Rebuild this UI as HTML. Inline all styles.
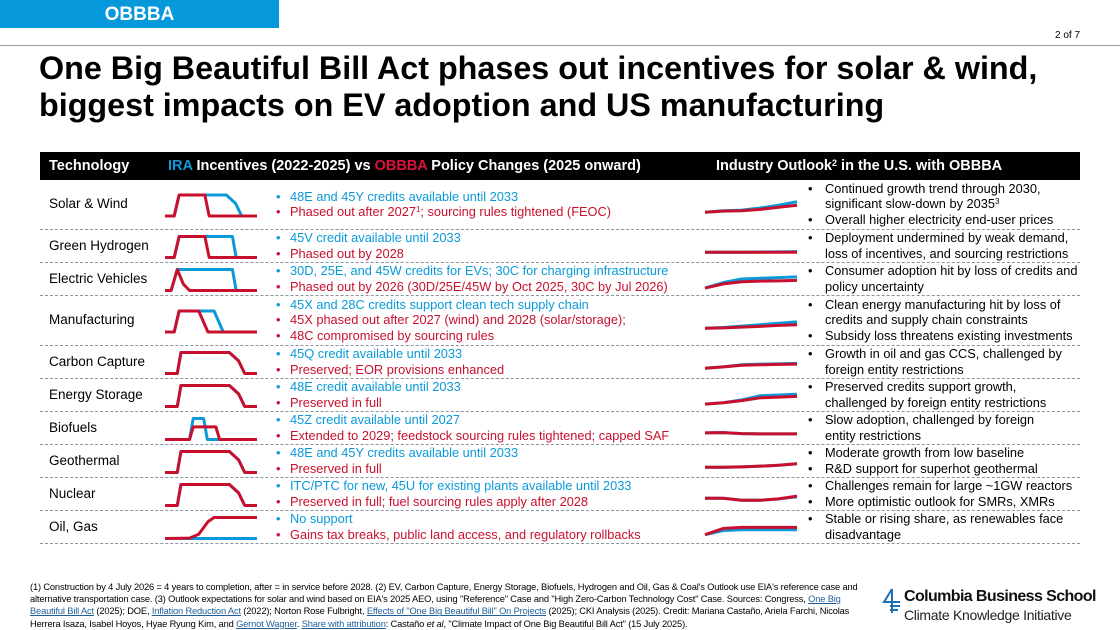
<!DOCTYPE html>
<html><head><meta charset="utf-8">
<style>
body{margin:0;width:1120px;height:630px;overflow:hidden;background:#fff;font-family:"Liberation Sans",Arial,sans-serif;position:relative}
.abs{position:absolute}
.b{color:#0a9ad9}.r{color:#c8102e}
.row-text{position:absolute;font-size:12.8px;line-height:15.5px;white-space:nowrap}
.li{position:relative;padding-left:14px}
.li:before{content:"•";position:absolute;left:0}
.rl .li{padding-left:17px}
.rl .li:before{color:#000}
.sep{position:absolute;left:40px;width:1040px;border-top:1.5px dashed #8a95a0}
.tech{position:absolute;left:49px;font-size:13.5px;color:#000}
.foot{position:absolute;left:30px;top:581px;width:832px;font-size:9.3px;line-height:12.2px;color:#000;letter-spacing:-0.15px}
.foot a{color:#1f5f9a;text-decoration:underline}
sup.s{font-size:8px;line-height:0;vertical-align:4px}
</style></head><body>
<div class="abs" style="left:0;top:0;width:279px;height:28px;background:#0598da;color:#fff;font-weight:bold;font-size:19px;line-height:29px;text-align:center">OBBBA</div>
<div class="abs" style="left:0;top:45px;width:1120px;border-top:1px solid #999"></div>
<div class="abs" style="left:1055px;top:30px;font-size:10px">2 of 7</div>
<div class="abs" style="left:39px;top:50px;font-size:32.3px;font-weight:bold;line-height:37px;color:#000;white-space:nowrap">One Big Beautiful Bill Act phases out incentives for solar &amp; wind,<br>biggest impacts on EV adoption and US manufacturing</div>
<div class="abs" style="left:40px;top:152px;width:1040px;height:28px;background:#000;color:#fff;font-weight:bold;font-size:14.5px;line-height:29px">
<span class="abs" style="left:9px">Technology</span>
<span class="abs" style="left:128px"><span style="color:#0a9ad9">IRA</span> Incentives (2022-2025) vs <span style="color:#e0103a">OBBBA</span> Policy Changes (2025 onward)</span>
<span class="abs" style="left:676px;white-space:nowrap">Industry Outlook<sup class="s" style="font-size:9px">2</sup> in the U.S. with OBBBA</span>
</div>
<div id="rows"></div>
<svg id="charts" class="abs" style="left:0;top:0" width="1120" height="630"></svg>
<div class="foot">(1) Construction by 4 July 2026 = 4 years to completion, after = in service before 2028. (2) EV, Carbon Capture, Energy Storage, Biofuels, Hydrogen and Oil, Gas &amp; Coal's Outlook use EIA's reference case and alternative transportation case. (3) Outlook expectations for solar and wind based on EIA's 2025 AEO, using "Reference" Case and "High Zero-Carbon Technology Cost" Case. Sources: Congress, <a>One Big Beautiful Bill Act</a> (2025); DOE, <a>Inflation Reduction Act</a> (2022); Norton Rose Fulbright, <a>Effects of "One Big Beautiful Bill" On Projects</a> (2025); CKI Analysis (2025). Credit: Mariana Castaño, Ariela Farchi, Nicolas Herrera Isaza, Isabel Hoyos, Hyae Ryung Kim, and <a>Gernot Wagner</a>. <a>Share with attribution</a>: Castaño <i>et al</i>, "Climate Impact of One Big Beautiful Bill Act" (15 July 2025).</div>
<div class="abs" style="left:878px;top:586px">
<svg width="24" height="26" class="abs" style="left:0;top:2px"><path d="M14 1 L6 14 H22 M12 18 H22 M12 22 H20 M14 1 V25" stroke="#1c6fb8" stroke-width="2" fill="none"/></svg>
<div class="abs" style="left:26px;top:2px;font-size:16px;font-weight:bold;letter-spacing:-0.6px;white-space:nowrap;color:#111">Columbia Business School</div>
<div class="abs" style="left:26px;top:21px;font-size:14px;letter-spacing:-0.3px;white-space:nowrap;color:#222">Climate Knowledge Initiative</div>
</div>
<script>
const techNames=["Solar & Wind","Green Hydrogen","Electric Vehicles","Manufacturing","Carbon Capture","Energy Storage","Biofuels","Geothermal","Nuclear","Oil, Gas"];
const rowTops=[180,230,263,296,346,379,412,445,478,511,544];
const iraText=[["48E and 45Y credits available until 2033"],["45V credit available until 2033"],["30D, 25E, and 45W credits for EVs; 30C for charging infrastructure"],["45X and 28C credits support clean tech supply chain"],["45Q credit available until 2033"],["48E credit available until 2033"],["45Z credit available until 2027"],["48E and 45Y credits available until 2033"],["ITC/PTC for new, 45U for existing plants available until 2033"],["No support"]];
const obbbaText=[["Phased out after 2027<sup class='s'>1</sup>; sourcing rules tightened (FEOC)"],["Phased out by 2028"],["Phased out by 2026 (30D/25E/45W by Oct 2025, 30C by Jul 2026)"],["45X phased out after 2027 (wind) and 2028 (solar/storage);","48C compromised by sourcing rules"],["Preserved; EOR provisions enhanced"],["Preserved in full"],["Extended to 2029; feedstock sourcing rules tightened; capped SAF"],["Preserved in full"],["Preserved in full; fuel sourcing rules apply after 2028"],["Gains tax breaks, public land access, and regulatory rollbacks"]];
const outlookText=[["Continued growth trend through 2030,|significant slow-down by 2035<sup class='s'>3</sup>","Overall higher electricity end-user prices"],["Deployment undermined by weak demand,|loss of incentives, and sourcing restrictions"],["Consumer adoption hit by loss of credits and|policy uncertainty"],["Clean energy manufacturing hit by loss of|credits and supply chain constraints","Subsidy loss threatens existing investments"],["Growth in oil and gas CCS, challenged by|foreign entity restrictions"],["Preserved credits support growth,|challenged by foreign entity restrictions"],["Slow adoption, challenged by foreign|entity restrictions"],["Moderate growth from low baseline","R&D support for superhot geothermal"],["Challenges remain for large ~1GW reactors","More optimistic outlook for SMRs, XMRs"],["Stable or rising share, as renewables face|disadvantage"]];
const iraPolicy=[
[[2020,0],[2021.5,0],[2022.3,1],[2030,1],[2031.5,0.6],[2032.5,0],[2035,0]],
[[2020,0],[2021.5,0],[2022.3,1],[2031,1],[2031.6,0],[2035,0]],
[[2020,0],[2021,0],[2022,1],[2031,1],[2031.6,0],[2035,0]],
[[2020,0],[2021.5,0],[2022.3,1],[2028,1],[2029.5,0],[2035,0]],
[[2020,0],[2022,0],[2022.6,1],[2030.5,1],[2032,0.6],[2033,0],[2035,0]],
[[2020,0],[2022,0],[2022.6,1],[2030.5,1],[2032,0.6],[2033,0],[2035,0]],
[[2020,0],[2024,0],[2024.6,1],[2026.3,1],[2026.9,0],[2035,0]],
[[2020,0],[2022,0],[2022.6,1],[2030.5,1],[2032,0.6],[2033,0],[2035,0]],
[[2020,0],[2022,0],[2022.6,1],[2030.5,1],[2032,0.6],[2033,0],[2035,0]],
[[2020,0],[2035,0]]];
const obbbaPolicy=[
[[2020,0],[2021.5,0],[2022.3,1],[2026.5,1],[2027.2,0],[2035,0]],
[[2020,0],[2021.5,0],[2022.3,1],[2026.5,1],[2027.2,0],[2035,0]],
[[2020,0],[2021,0],[2022,1],[2023,0.3],[2024,0],[2035,0]],
[[2020,0],[2021.5,0],[2022.3,1],[2025.5,1],[2027,0],[2035,0]],
[[2020,0],[2022,0],[2022.6,1],[2030.5,1],[2032,0.6],[2033,0],[2035,0]],
[[2020,0],[2022,0],[2022.6,1],[2030.5,1],[2032,0.6],[2033,0],[2035,0]],
[[2020,0],[2024,0],[2024.6,0.6],[2028.3,0.6],[2028.9,0],[2035,0]],
[[2020,0],[2022,0],[2022.6,1],[2030.5,1],[2032,0.6],[2033,0],[2035,0]],
[[2020,0],[2022,0],[2022.6,1],[2030.5,1],[2032,0.6],[2033,0],[2035,0]],
[[2020,0],[2024,0.02],[2025.5,0.2],[2027,0.8],[2028,1],[2035,1]]];
const outlookYears=[2025,2027,2029,2031,2033,2035];
const outlookBase=[
[0.2,0.3,0.35,0.5,0.7,0.95],[0.3,0.3,0.3,0.32,0.33,0.35],[0.1,0.5,0.75,0.8,0.85,0.9],[0.2,0.25,0.35,0.45,0.55,0.65],
[0.3,0.4,0.55,0.6,0.62,0.65],[0.1,0.2,0.4,0.7,0.75,0.8],[0.4,0.42,0.35,0.33,0.33,0.33],[0.3,0.3,0.33,0.38,0.45,0.55],[0.45,0.45,0.3,0.3,0.4,0.55],[0.2,0.5,0.55,0.55,0.55,0.55]];
const outlookObbba=[
[0.2,0.28,0.3,0.4,0.55,0.7],[0.3,0.3,0.3,0.3,0.3,0.3],[0.1,0.4,0.55,0.6,0.62,0.65],[0.2,0.22,0.28,0.33,0.4,0.45],
[0.3,0.4,0.52,0.55,0.58,0.6],[0.1,0.2,0.35,0.55,0.6,0.65],[0.4,0.42,0.35,0.33,0.33,0.33],[0.3,0.3,0.33,0.38,0.45,0.55],[0.45,0.45,0.3,0.3,0.4,0.6],[0.2,0.65,0.72,0.72,0.72,0.72]];

const NS="http://www.w3.org/2000/svg";
const svg=document.getElementById('charts');
const rowsDiv=document.getElementById('rows');
const BLUE="#0a9ad9",RED="#c8102e";
function px(y0,y1,x0,x1){return t=>x0+(t-y0)/(y1-y0)*(x1-x0);}
function poly(pts,xs,ys,color,name){
  const p=document.createElementNS(NS,'polyline');
  p.setAttribute('points',pts.map(d=>xs(d[0])+','+ys(d[1])).join(' '));
  p.setAttribute('fill','none');p.setAttribute('stroke',color);p.setAttribute('stroke-width','3');
  p.setAttribute('stroke-linejoin','round');
  
  
  svg.appendChild(p);
}
function lines(arr,cls){return arr.map(s=>'<div class="li '+cls+'">'+s.split('|').join('<br>')+'</div>').join('');}
for(let i=0;i<techNames.length;i++){
  const top=rowTops[i],bot=rowTops[i+1],mid=(top+bot)/2;
  const sep=document.createElement('div');sep.className='sep';sep.style.top=(bot-1)+'px';
  
  
  rowsDiv.appendChild(sep);
  const t=document.createElement('div');t.className='tech';t.textContent=techNames[i];t.style.top=(mid-9)+'px';
  
  
  rowsDiv.appendChild(t);
  const nL=iraText[i].length+obbbaText[i].length;
  const l=document.createElement('div');l.className='row-text';l.style.left='276px';l.style.top=(mid-nL*7.75-1)+'px';
  l.innerHTML=lines(iraText[i],'b')+lines(obbbaText[i],'r');
  
  
  rowsDiv.appendChild(l);
  let nR=0;outlookText[i].forEach(s=>nR+=s.split('|').length);
  const r=document.createElement('div');r.className='row-text rl';r.style.left='808px';r.style.top=(mid-nR*7.75-1)+'px';
  r.innerHTML=lines(outlookText[i],'');
  
  
  rowsDiv.appendChild(r);
  const pys=v=>mid+11-v*21;
  const pxs=px(2020,2035,165,257);
  poly(iraPolicy[i],pxs,pys,BLUE,'ira-policy-line');
  poly(obbbaPolicy[i],pxs,pys,RED,'obbba-policy-line');
  const oxs=px(2025,2035,705,797);
  const oys=v=>mid+10-v*14;
  const ptsB=outlookYears.map((y,k)=>[y,outlookBase[i][k]]);
  const ptsO=outlookYears.map((y,k)=>[y,outlookObbba[i][k]]);
  poly(ptsB,oxs,oys,BLUE,'outlook-ira-line');
  poly(ptsO,oxs,oys,RED,'outlook-obbba-line');
}
</script>
</body></html>
